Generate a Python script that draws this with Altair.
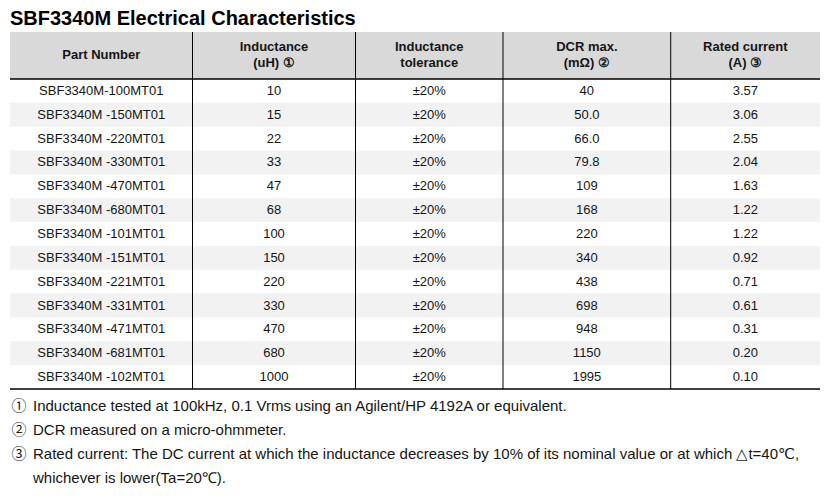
import altair as alt
import pandas as pd

# ---------------- data ----------------
title_text = "SBF3340M Electrical Characteristics"

header_lines = [
    ["Part Number"],
    ["Inductance", "(uH) ①"],
    ["Inductance", "tolerance"],
    ["DCR max.", "(mΩ) ②"],
    ["Rated current", "(A) ③"],
]

part_numbers = [
    "SBF3340M-100MT01", "SBF3340M -150MT01", "SBF3340M -220MT01", "SBF3340M -330MT01",
    "SBF3340M -470MT01", "SBF3340M -680MT01", "SBF3340M -101MT01", "SBF3340M -151MT01",
    "SBF3340M -221MT01", "SBF3340M -331MT01", "SBF3340M -471MT01", "SBF3340M -681MT01",
    "SBF3340M -102MT01",
]
inductance = ["10", "15", "22", "33", "47", "68", "100", "150", "220", "330", "470", "680", "1000"]
tolerance = ["±20%", "±20%", "±20%", "±20%", "±20%", "±20%", "±20%",
             "±20%", "±20%", "±20%", "±20%", "±20%", "±20%"]
dcr_max = ["40", "50.0", "66.0", "79.8", "109", "168", "220", "340", "438", "698", "948", "1150", "1995"]
rated_current = ["3.57", "3.06", "2.55", "2.04", "1.63", "1.22", "1.22", "0.92", "0.71", "0.61",
                 "0.31", "0.20", "0.10"]

footnote_marks = ["①", "②", "③", ""]
footnote_texts = [
    "Inductance tested at 100kHz, 0.1 Vrms using an Agilent/HP 4192A or equivalent.",
    "DCR measured on a micro-ohmmeter.",
    "Rated current: The DC current at which the inductance decreases by 10% of its nominal value or at which  △t=40℃,",
    "whichever is lower(Ta=20℃).",
]

# ---------------- layout (pixel space of the plot area) ----------------
W, H = 817, 485
COL_EDGES = [2, 184.5, 347.5, 495, 662.7, 812]
HEADER_TOP, HEADER_BOT = 24, 71
N_ROWS = len(part_numbers)
ROW_H = (381 - HEADER_BOT) / N_ROWS
TABLE_BOT = HEADER_BOT + N_ROWS * ROW_H
TITLE_Y = 10.5
HEADER_ONE_LINE_Y = 47
HEADER_TWO_LINE_Y = [38.7, 55]
FOOT_Y0, FOOT_DY = 398, 24
FOOT_MARK_X, FOOT_TEXT_X = 11, 25

FONT = "Liberation Sans"
TEXT_COLOR = "#151515"
HEADER_FILL = "#d9d9d9"
STRIPE_FILL = "#f2f2f2"

xs = alt.Scale(domain=[0, W], nice=False, zero=False)
ys = alt.Scale(domain=[0, H], nice=False, zero=False, reverse=True)


def X(f):
    return alt.X(f, type="quantitative", scale=xs, axis=None)


def Y(f):
    return alt.Y(f, type="quantitative", scale=ys, axis=None)


# header band
header_df = pd.DataFrame([{"x": COL_EDGES[0], "x2": COL_EDGES[-1], "y": HEADER_TOP, "y2": HEADER_BOT}])
header_rect = alt.Chart(header_df).mark_rect(fill=HEADER_FILL).encode(
    x=X("x"), x2="x2", y=Y("y"), y2="y2")

# striped rows
stripe_df = pd.DataFrame([
    {"x": COL_EDGES[0], "x2": COL_EDGES[-1],
     "y": HEADER_BOT + i * ROW_H, "y2": HEADER_BOT + (i + 1) * ROW_H}
    for i in range(N_ROWS) if i % 2 == 1
])
stripes = alt.Chart(stripe_df).mark_rect(fill=STRIPE_FILL).encode(
    x=X("x"), x2="x2", y=Y("y"), y2="y2")

# vertical separators
vsep_df = pd.DataFrame([{"x": c, "y": HEADER_TOP, "y2": TABLE_BOT} for c in COL_EDGES[1:-1]])
vsep = alt.Chart(vsep_df).mark_rule(color="#000000", strokeWidth=1).encode(
    x=X("x"), y=Y("y"), y2="y2")

# horizontal rules
hsep_df = pd.DataFrame([{"x": COL_EDGES[0], "x2": COL_EDGES[-1], "y": yy} for yy in [HEADER_BOT, TABLE_BOT]])
hsep = alt.Chart(hsep_df).mark_rule(color="#000000", strokeWidth=1.5).encode(
    x=X("x"), x2="x2", y=Y("y"))

# header text
hdr_rows = []
for ci, lines in enumerate(header_lines):
    cx = (COL_EDGES[ci] + COL_EDGES[ci + 1]) / 2
    if len(lines) == 1:
        hdr_rows.append({"x": cx, "y": HEADER_ONE_LINE_Y, "t": lines[0]})
    else:
        for li, ln in enumerate(lines):
            hdr_rows.append({"x": cx, "y": HEADER_TWO_LINE_Y[li], "t": ln})
hdr_text = alt.Chart(pd.DataFrame(hdr_rows)).mark_text(
    font=FONT, fontSize=13, fontWeight="bold", color=TEXT_COLOR, align="center", baseline="middle"
).encode(x=X("x"), y=Y("y"), text="t:N")

# body text
columns = [part_numbers, inductance, tolerance, dcr_max, rated_current]
body_rows = []
for ci, col in enumerate(columns):
    cx = (COL_EDGES[ci] + COL_EDGES[ci + 1]) / 2
    for ri, v in enumerate(col):
        body_rows.append({"x": cx, "y": HEADER_BOT + (ri + 0.5) * ROW_H, "t": v})
body_text = alt.Chart(pd.DataFrame(body_rows)).mark_text(
    font=FONT, fontSize=13, color=TEXT_COLOR, align="center", baseline="middle"
).encode(x=X("x"), y=Y("y"), text="t:N")

# title
title_df = pd.DataFrame([{"x": COL_EDGES[0], "y": TITLE_Y, "t": title_text}])
title = alt.Chart(title_df).mark_text(
    font=FONT, fontSize=20, fontWeight="bold", color="#000000", align="left", baseline="middle"
).encode(x=X("x"), y=Y("y"), text="t:N")

# footnotes
fm_df = pd.DataFrame([{"x": FOOT_MARK_X, "y": FOOT_Y0 + i * FOOT_DY, "t": m}
                      for i, m in enumerate(footnote_marks) if m])
foot_marks = alt.Chart(fm_df).mark_text(
    font="Noto Sans CJK SC", fontSize=15, color=TEXT_COLOR, align="center", baseline="middle"
).encode(x=X("x"), y=Y("y"), text="t:N")

ft_df = pd.DataFrame([{"x": FOOT_TEXT_X, "y": FOOT_Y0 + i * FOOT_DY, "t": t}
                      for i, t in enumerate(footnote_texts)])
foot_text = alt.Chart(ft_df).mark_text(
    font=FONT, fontSize=15, color=TEXT_COLOR, align="left", baseline="middle"
).encode(x=X("x"), y=Y("y"), text="t:N")

chart = alt.layer(
    header_rect, stripes, vsep, hsep, hdr_text, body_text, title, foot_marks, foot_text
).properties(
    width=W, height=H, padding=0, autosize=alt.AutoSizeParams(type="none")
).configure(
    background="#ffffff", view=alt.ViewConfig(stroke=None)
)

chart.save("out.html", embed_options={"renderer": "svg", "actions": False})
